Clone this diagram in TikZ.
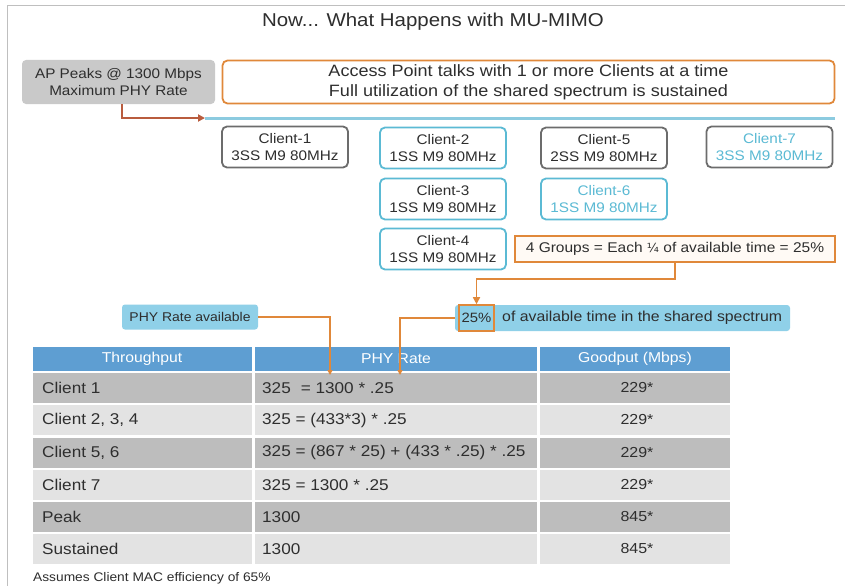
\documentclass[tikz,border=0pt]{standalone}
\usepackage{fontspec}
\setmainfont{Liberation Sans}[FakeStretch=1.1]
\usetikzlibrary{arrows.meta}
\definecolor{txt}{HTML}{2E2E2E}
\definecolor{org}{HTML}{E0883A}
\definecolor{cblue}{HTML}{5BBAD4}
\definecolor{lblue}{HTML}{8FD0E8}
\definecolor{hdr}{HTML}{5E9ED2}
\definecolor{rdark}{HTML}{BDBDBD}
\definecolor{rlight}{HTML}{E3E3E3}
\definecolor{apgray}{HTML}{C9C9C9}
\definecolor{brn}{HTML}{B95C3E}
\definecolor{rule}{HTML}{8CCBE0}
\tikzset{
  fs/.style={font=\fontsize{#1}{\dimexpr#1pt*6/5\relax}\selectfont},
  client/.style={draw=#1, line width=1.8pt, rounded corners=5pt, fill=white,
    minimum width=126pt, minimum height=41pt, align=center, inner sep=1pt,
    text=txt, fs=13.9},
  oline/.style={draw=org, line width=1.6pt},
  cell/.style={anchor=west, text=txt, fs=15.6, inner sep=0pt},
  ccell/.style={text=txt, fs=14.5, inner sep=0pt},
}
\begin{document}
\begin{tikzpicture}[x=1pt,y=-1pt]
\useasboundingbox (0,0) rectangle (845,586);
\fill[white] (0,0) rectangle (845,586);
% frame
\draw[gray!50, line width=1pt] (7,6) -- (845,6);
\draw[gray!50, line width=1pt] (7,6) -- (7,586);
% title
\node[text=txt, fs=18.6] (title) at (433,22) {Now... What Happens with MU-MIMO};
% AP box
\node[fill=apgray, rounded corners=4pt, minimum width=193pt, minimum height=44pt,
  align=center, text=txt, fs=13.9, inner sep=1pt] (ap) at (118.5,82)
  {AP Peaks @ 1300 Mbps\\Maximum PHY Rate};
% orange box
\node[draw=org, line width=1.8pt, rounded corners=5pt, fill=white,
  minimum width=612pt, minimum height=43pt, align=center, text=txt, fs=16.4,
  inner sep=1pt] (talk) at (528.5,82)
  {Access Point talks with 1 or more Clients at a time\\Full utilization of the shared spectrum is sustained};
% blue rule
\coordinate (rs) at (205,118);
\coordinate (re) at (835,118);
\draw[rule, line width=3pt] (rs) -- (re);
% AP arrow
\draw[brn, line width=1.8pt, -{Triangle[length=7pt,width=7pt]}] (ap.south -| 122,0) |- (rs);
% clients
\node[client=gray!85!black] (c1) at (285,147) {Client-1\\3SS M9 80MHz};
\node[client=cblue] (c2) at (443,148) {Client-2\\1SS M9 80MHz};
\node[client=cblue] (c3) at (443,199) {Client-3\\1SS M9 80MHz};
\node[client=cblue] (c4) at (443,249) {Client-4\\1SS M9 80MHz};
\node[client=gray!85!black] (c5) at (604,148) {Client-5\\2SS M9 80MHz};
\node[client=cblue, text=cblue] (c6) at (604,199) {Client-6\\1SS M9 80MHz};
\node[client=gray!85!black, text=cblue] (c7) at (769.5,147) {Client-7\\3SS M9 80MHz};
% groups box
\node[draw=org, line width=1.6pt, fill=orange!4, minimum width=320pt,
  minimum height=26pt, text=txt, fs=14.1, inner sep=1pt] (grp) at (675,249)
  {4 Groups = Each {\fontspec{DejaVu Sans}\fontsize{12.5}{14}\selectfont ¼} of available time = 25\%};
% PHY Rate available
\node[fill=lblue, rounded corners=3pt, minimum width=136pt, minimum height=25pt,
  text=txt, fs=12.7, inner sep=1pt] (pra) at (190,317) {PHY Rate available};
% 25% available box
\node[fill=lblue, rounded corners=3pt, minimum width=335pt, minimum height=26pt,
  inner sep=0pt] (avail) at (622.5,318) {};
\node[draw=org, line width=1.6pt, minimum width=35pt, minimum height=26pt,
  text=txt, fs=13.5, inner sep=0pt] (p25) at (476.5,318) {25\%};
\node[anchor=west, text=txt, fs=14.4, inner sep=0pt] (availtxt) at (502,318)
  {of available time in the shared spectrum};
% connector into 25%
\draw[oline, -{Triangle[length=7pt,width=7pt]}] (grp.south) -- ++(0,16) -| (p25.north);
% table header
\fill[hdr] (33,347) rectangle (252,371);
\fill[hdr] (255,347) rectangle (537,371);
\fill[hdr] (540,347) rectangle (730,371);
\node[text=white, fs=14.3] (h1) at (142,359) {Throughput};
\node[text=white, fs=14.3] (h2) at (396,359) {PHY Rate};
\node[text=white, fs=14.3] (h3) at (635,359) {Goodput (Mbps)};
% rows
\foreach \i/\yc/\col/\a/\b/\c in {
  1/388/rdark/Client 1/{325\,\, = 1300 * .25}/229*,
  2/420/rlight/{Client 2, 3, 4}/{325 = (433*3) * .25}/229*,
  3/452.5/rdark/{Client 5, 6}/{325 = (867 * 25) + (433 * .25) * .25}/229*,
  4/485/rlight/Client 7/{325 = 1300 * .25}/229*,
  5/517/rdark/Peak/1300/845*,
  6/549/rlight/Sustained/1300/845*}{
  \fill[\col] (33,\yc-15) rectangle (252,\yc+15);
  \fill[\col] (255,\yc-15) rectangle (537,\yc+15);
  \fill[\col] (540,\yc-15) rectangle (730,\yc+15);
  \node[cell] (r\i a) at (42,\yc) {\a};
  \node[cell] (r\i b) at (262,\yc) {\b};
  \node[ccell] (r\i c) at (637,\yc) {\c};
}
% connectors into table
\coordinate (ta) at (330,375);
\coordinate (tb) at (400,375);
\draw[oline, -{Triangle[length=5pt,width=5pt]}] (pra.east) -| (ta);
\draw[oline, -{Triangle[length=5pt,width=5pt]}] (avail.west) -| (tb);
% footer
\node[anchor=west, text=txt, fs=12.5, inner sep=0pt] (foot) at (33,578)
  {Assumes Client MAC efficiency of 65\%};
\end{tikzpicture}
\end{document}
